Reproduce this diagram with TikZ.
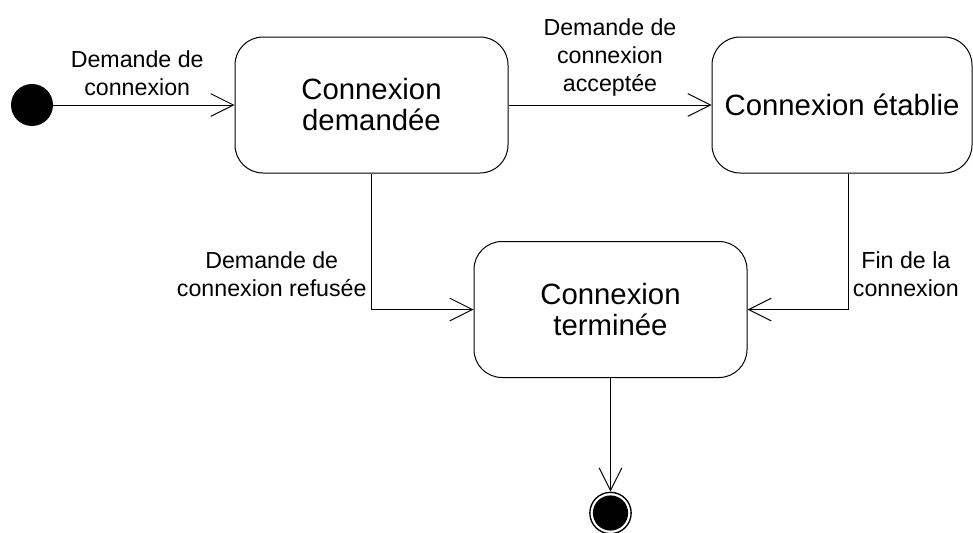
\documentclass[tikz,border=0pt]{standalone}
\usepackage{fontspec}
\setmainfont{Liberation Sans}
\usetikzlibrary{arrows.meta}

\begin{document}
\begin{tikzpicture}[x=0.75pt,y=-0.75pt,
  state/.style={rectangle,draw,rounded corners=21pt,line width=0.75pt,
                minimum height=102pt,align=center,
                font=\fontsize{22}{23.25}\selectfont},
  start/.style={circle,fill=black,minimum size=31.5pt,inner sep=0pt},
  stop/.style={circle,draw,line width=1pt,minimum size=31pt,inner sep=0pt,
               path picture={\fill (path picture bounding box.center) circle (13.2pt);}},
  lbl/.style={align=center,font=\fontsize{17.4}{21}\selectfont},
  trans/.style={-{Straight Barb[length=17pt,width=17pt]},line width=0.75pt}
]
\useasboundingbox (0,0) rectangle (973,532);

\node[start] (init) at (32,105) {};
\node[state,minimum width=204.75pt] (demandee) at (371.5,105) {Connexion\\demandée};
\node[state,minimum width=195pt]    (etablie)  at (842,105)   {Connexion établie};
\node[state,minimum width=204.75pt] (terminee) at (610.5,309.5) {Connexion\\terminée};
\node[stop] (fin) at (610.5,513) {};

\draw[trans] (init) -- node[lbl,above=3pt,xshift=-5pt]{Demande de\\connexion} (demandee);
\draw[trans] (demandee) -- node[lbl,above=3pt]{Demande de\\connexion\\acceptée} (etablie);
\draw[trans] (demandee.south) |- node[lbl,left,pos=0.37]{Demande de\\connexion refusée} (terminee.west);
\draw[trans] (etablie.south) ++(6,0) |- node[lbl,right,pos=0.37]{Fin de la\\connexion} (terminee.east);
\draw[trans] (terminee) -- (fin);
\end{tikzpicture}
\end{document}
